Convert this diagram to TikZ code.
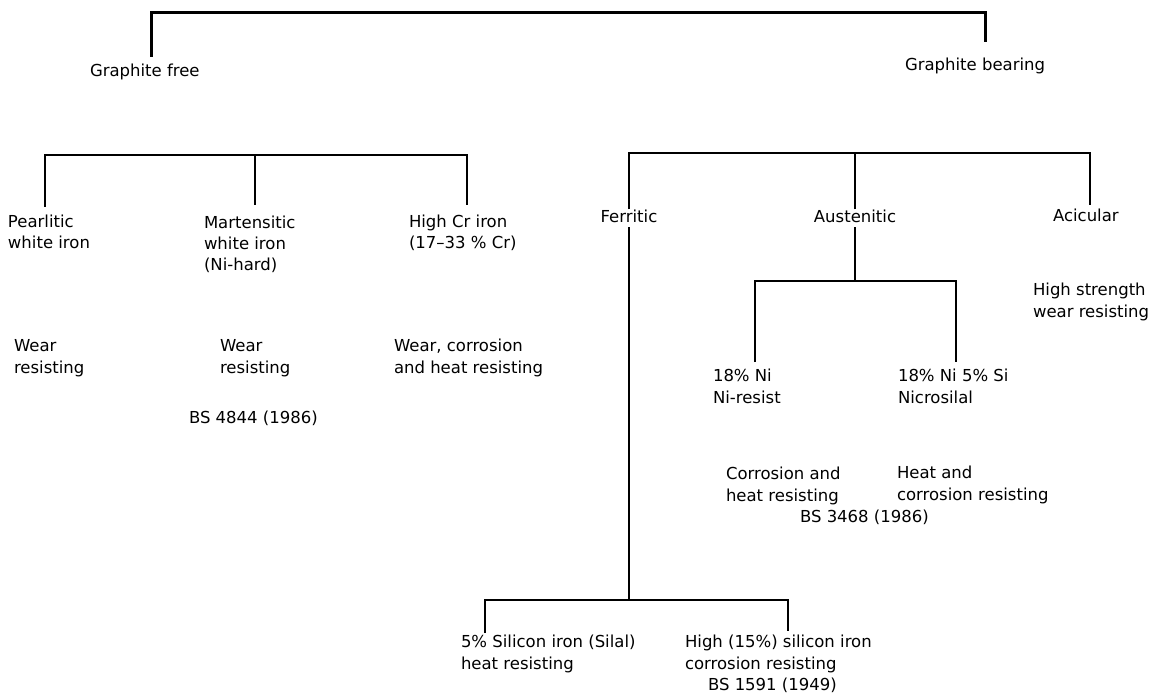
\documentclass[tikz,border=0pt]{standalone}
\usepackage{fontspec}
\setmainfont{DejaVu Sans}
\tikzset{
  lbl/.style={font=\fontsize{16.5}{21.5}\selectfont, inner sep=0pt, outer sep=0pt, align=left, anchor=base west},
  clbl/.style={lbl, anchor=base},
  branch/.style={line width=2.7pt, line cap=butt, line join=miter},
}
\begin{document}
\begin{tikzpicture}[x=1pt,y=-1pt]
\useasboundingbox (0,0) rectangle (1157,695);
% --- labels (multi-line nodes are placed at the baseline of their last line)
\node[lbl] (gf) at (90,77) {Graphite free};
\node[lbl] (gb) at (905,71) {Graphite bearing};
\node[lbl] (pwi) at (8,249) {Pearlitic\\white iron};
\node[lbl] (mwi) at (204,271) {Martensitic\\white iron\\(Ni-hard)};
\node[lbl] (hcr) at (409,249) {High Cr iron\\(17--33 \% Cr)};
\node[lbl] (w1) at (14,373) {Wear\\resisting};
\node[lbl] (w2) at (220,373) {Wear\\resisting};
\node[lbl] (w3) at (394,373) {Wear, corrosion\\and heat resisting};
\node[lbl] (bs4844) at (189,423) {BS 4844 (1986)};
\node[clbl] (fer) at (629,223) {Ferritic};
\node[clbl] (aus) at (855,223) {Austenitic};
\node[lbl] (aci) at (1053,222) {Acicular};
\node[lbl] (hs) at (1033,317) {High strength\\wear resisting};
\node[lbl] (nir) at (713,403) {18\% Ni\\Ni-resist};
\node[lbl] (nic) at (898,403) {18\% Ni 5\% Si\\Nicrosilal};
\node[lbl] (ch) at (726,501) {Corrosion and\\heat resisting};
\node[lbl] (hc) at (897,500) {Heat and\\corrosion resisting};
\node[lbl] (bs3468) at (800,522) {BS 3468 (1986)};
\node[lbl] (sil) at (461,669) {5\% Silicon iron (Silal)\\heat resisting};
\node[lbl] (hsi) at (685,669) {High (15\%) silicon iron\\corrosion resisting};
\node[lbl] (bs1591) at (708,690) {BS 1591 (1949)};
% --- connector ends
\coordinate (gfT) at (151,57);
\coordinate (gbT) at (985,42);
\coordinate (topbar) at (568,13);
\coordinate (pwiT) at (45,207);
\coordinate (mwiT) at (255,205);
\coordinate (hcrT) at (467,205);
\coordinate (lbar) at (255,155);
\coordinate (rbar) at (855,153);
\coordinate (aciT) at (1090,205);
\coordinate (nirT) at (755,362);
\coordinate (nicT) at (956,362);
\coordinate (subbar) at (855,281);
\coordinate (ferB) at (629,600);
\coordinate (silT) at (485,633);
\coordinate (hsiT) at (788,631);
% --- connectors
\draw[branch, line width=3pt] (gfT) |- (topbar) -| (gbT);
\draw[branch] (pwiT) |- (lbar) -| (hcrT);
\draw[branch] (mwiT) -- (lbar);
\draw[branch] ([yshift=1pt]fer.north) |- (rbar) -| (aciT);
\draw[branch] ([yshift=1pt]aus.north) -- (rbar);
\draw[branch] ([yshift=-4pt]aus.south) -- (subbar);
\draw[branch] (nirT) |- (subbar) -| (nicT);
\draw[branch] ([yshift=-4pt]fer.south) -- (ferB);
\draw[branch] (silT) |- (ferB) -| (hsiT);
\end{tikzpicture}
\end{document}
